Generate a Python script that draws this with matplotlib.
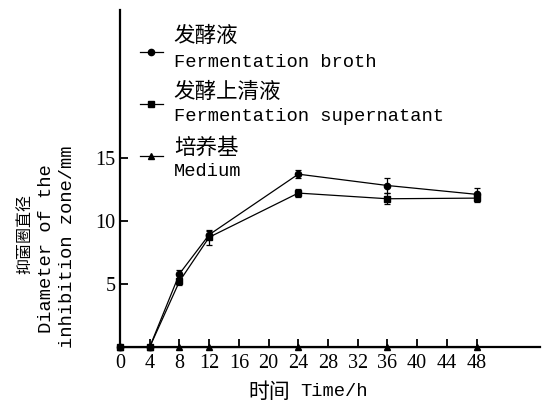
import matplotlib
matplotlib.use("Agg")
import matplotlib.pyplot as plt
from matplotlib.lines import Line2D

# tempo de cultivo (h) e diâmetro do halo (mm)
horas = [0, 4, 8, 12, 24, 36, 48]
caldo = [0, 0, 5.8, 8.9, 13.7, 12.8, 12.1]
caldo_err = [0, 0, 0.3, 0.3, 0.3, 0.6, 0.5]
sobrenadante = [0, 0, 5.2, 8.7, 12.2, 11.75, 11.8]
sobrenadante_err = [0, 0, 0.3, 0.6, 0.3, 0.45, 0.3]
meio = [0, 0, 0, 0, 0, 0, 0]

nomes_cn = ["发酵液", "发酵上清液", "培养基"]
nomes_en = ["Fermentation broth", "Fermentation supernatant", "Medium"]
marcadores = ["o", "s", "^"]
tam_marcador = [4.5, 5, 5]

xticks = list(range(0, 49, 4))
yticks = [5, 10, 15]

CJK = "Noto Sans CJK SC"
MONO = "Liberation Mono"
SERIF = "Liberation Serif"

fig = plt.figure(figsize=(5.43, 4.04), dpi=100)
ax = fig.add_axes([0.221, 0.141, 0.773, 0.834])

series = [(caldo, caldo_err), (sobrenadante, sobrenadante_err), (meio, None)]
for i, (ys, err) in enumerate(series):
    ax.errorbar(horas, ys, yerr=err, color="black", lw=0.9, marker=marcadores[i],
                ms=tam_marcador[i], capsize=2.5, elinewidth=0.9, capthick=0.9,
                clip_on=False, zorder=3)

ax.set_xlim(0, 56.5)
ax.set_ylim(0, 26.7)
ax.set_xticks(xticks)
ax.set_yticks(yticks)
for lbl in ax.get_xticklabels() + ax.get_yticklabels():
    lbl.set_fontfamily(SERIF)
    lbl.set_fontsize(14.5)
ax.tick_params(direction="in", length=6, width=1.3, pad=5, color="black")
ax.tick_params(axis="y", pad=3)
for s in ["top", "right"]:
    ax.spines[s].set_visible(False)
for s in ["left", "bottom"]:
    ax.spines[s].set_linewidth(1.6)

# legenda montada à mão: nome em chinês em cima, inglês embaixo
y_cn = [0.922, 0.757, 0.59]
y_en = [0.845, 0.685, 0.52]
y_h = [0.875, 0.721, 0.568]
for i in range(3):
    ax.add_line(Line2D([0.048, 0.102], [y_h[i], y_h[i]], transform=ax.transAxes,
                       color="black", lw=0.9))
    ax.plot([0.075], [y_h[i]], transform=ax.transAxes, color="black",
            marker=marcadores[i], ms=tam_marcador[i], ls="none")
    ax.text(0.128, y_cn[i], nomes_cn[i], transform=ax.transAxes, family=CJK,
            fontsize=15.5, va="center", ha="left")
    ax.text(0.128, y_en[i], nomes_en[i], transform=ax.transAxes, family=MONO,
            fontsize=13.5, va="center", ha="left")

# rótulo do eixo y em três linhas
fig.text(25 / 543, 1 - 234 / 404, "抑菌圈直径", rotation=90, family=CJK,
         fontsize=11.5, ha="center", va="center")
fig.text(47 / 543, 1 - 249 / 404, "Diameter of the", rotation=90, family=MONO,
         fontsize=13.5, ha="center", va="center")
fig.text(67 / 543, 1 - 247 / 404, "inhibition zone/mm", rotation=90, family=MONO,
         fontsize=13.5, ha="center", va="center")

# rótulo do eixo x
fig.text(290 / 543, 1 - 392 / 404, "时间", family=CJK, fontsize=15,
         ha="right", va="center")
fig.text(300 / 543, 1 - 392 / 404, "Time/h", family=MONO, fontsize=13.5,
         ha="left", va="center")

fig.savefig("out.png", dpi=100)
